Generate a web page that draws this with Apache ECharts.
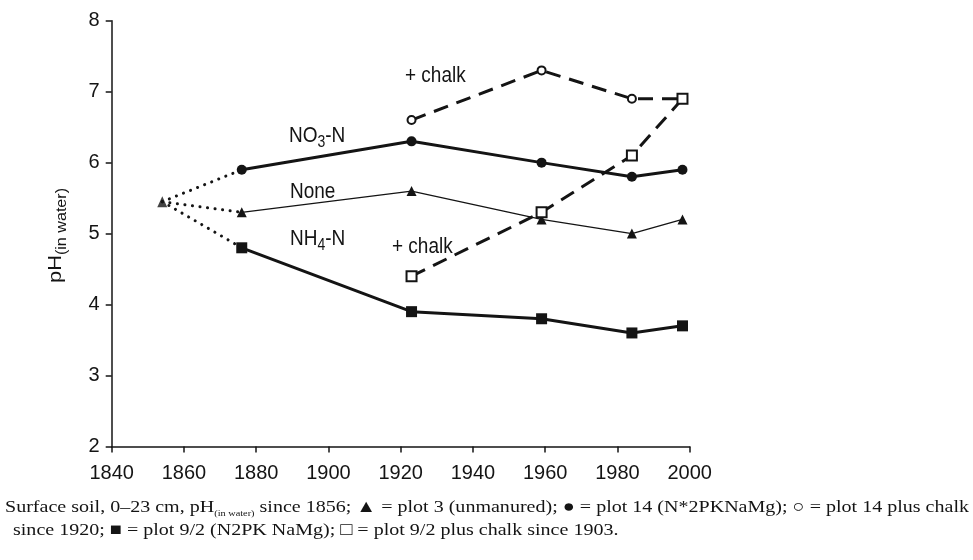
<!DOCTYPE html>
<html>
<head>
<meta charset="utf-8">
<script src="https://cdn.jsdelivr.net/npm/echarts@6/dist/echarts.min.js"></script>
<style>
  html, body { margin: 0; padding: 0; background: #fff; }
  #chart { width: 973px; height: 560px; }
</style>
</head>
<body>
<div id="chart"></div>
<script>
// Surface soil (0–23 cm) pH in water, Park Grass plots
const xTickLabels = [1840, 1860, 1880, 1900, 1920, 1940, 1960, 1980, 2000];
const yTickLabels = [2, 3, 4, 5, 6, 7, 8];

// common starting value, 1856 sampling
const startYear = 1854;
const startPH = 5.45;

const years = [1876, 1923, 1959, 1984, 1998];
const plot3 = [5.3, 5.6, 5.2, 5.0, 5.2];       // unmanured
const plot14 = [5.9, 6.3, 6.0, 5.8, 5.9];      // N*2PKNaMg
const plot92 = [4.8, 3.9, 3.8, 3.6, 3.7];      // N2PKNaMg

const chalkYears = [1923, 1959, 1984, 1998];
const plot14Chalk = [6.6, 7.3, 6.9, 6.9];      // plot 14 plus chalk
const plot92Chalk = [4.4, 5.3, 6.1, 6.9];      // plot 9/2 plus chalk

const INK = '#141414';
const SANS = '"Liberation Sans", Arial, Helvetica, sans-serif';
const SERIF = '"Liberation Serif", "Times New Roman", serif';

const chart = echarts.init(document.getElementById('chart'), null, { renderer: 'canvas' });

// text measuring for runs with sub/superscripts
const mctx = document.createElement('canvas').getContext('2d');
function textWidth(t, font) { mctx.font = font; return mctx.measureText(t).width; }

// pieces: [text, fontSize, baselineShift]; all placed on one baseline at (0,0)
function textRun(pieces, family) {
  let x = 0;
  return pieces.map(([t, size, shift]) => {
    const font = size + 'px ' + family;
    const el = {
      type: 'text', x: x, y: (shift || 0) - 0.31 * size, silent: true,
      style: { text: t, font: font, fill: INK, align: 'left', verticalAlign: 'middle' }
    };
    x += textWidth(t, font);
    return el;
  });
}
function runWidth(pieces, family) {
  return pieces.reduce((w, [t, size]) => w + textWidth(t, size + 'px ' + family), 0);
}
function label(x, y, pieces, opts) {
  opts = opts || {};
  return {
    type: 'group', x: x, y: y, silent: true,
    scaleX: opts.sx || 1, scaleY: opts.sy || 1, rotation: opts.rot || 0,
    children: textRun(pieces, opts.family || SANS)
  };
}

const pairs = (xs, ys) => xs.map((x, i) => [x, ys[i]]);

// dotted links from the 1856 value to the first sampling of each treatment
const dotted = { type: [0.1, 7.5], width: 3, cap: 'round', color: INK };
const linkSeries = [plot14, plot3, plot92].map(vals => ({
  type: 'line', data: [[startYear, startPH], [years[0], vals[0]]],
  symbol: 'none', lineStyle: dotted, silent: true, z: 1
}));

const caption1 = [
  ['Surface soil, 0–23 cm, pH', 17.5],
  ['(in water)', 9, 3.5],
  [' since 1856; ▲ = plot 3 (unmanured); ● = plot 14 (N*2PKNaMg); ○ = plot 14 plus chalk', 17.5]
];
const caption2 = [['since 1920; ■ = plot 9/2 (N2PK NaMg); □ = plot 9/2 plus chalk since 1903.', 17.5]];
const capScale = 964 / runWidth(caption1, SERIF);

// points shared with the plot 9/2 + chalk line carry no circle
const chalk14Data = pairs(chalkYears, plot14Chalk).map((p, i) =>
  (p[0] === chalkYears[chalkYears.length - 1] && p[1] === plot92Chalk[plot92Chalk.length - 1])
    ? { value: p, symbol: 'none' } : p);

const axisLineStyle = { color: INK, width: 1.5 };
const tickLabel = { color: INK, fontSize: 20, fontFamily: SANS, formatter: v => String(v) };

chart.setOption({
  animation: false,
  backgroundColor: '#fff',
  grid: { left: 111.7, right: 283.3, top: 20.7, bottom: 113.5, containLabel: false, outerBoundsMode: 'none' },
  xAxis: {
    type: 'value',
    min: xTickLabels[0], max: xTickLabels[xTickLabels.length - 1],
    interval: xTickLabels[1] - xTickLabels[0],
    axisLine: { show: true, onZero: false, lineStyle: axisLineStyle },
    axisTick: { show: true, length: 6, lineStyle: axisLineStyle },
    axisLabel: Object.assign({ margin: 17 }, tickLabel),
    splitLine: { show: false }
  },
  yAxis: {
    type: 'value',
    min: yTickLabels[0], max: yTickLabels[yTickLabels.length - 1],
    interval: yTickLabels[1] - yTickLabels[0],
    axisLine: { show: true, onZero: false, lineStyle: axisLineStyle },
    axisTick: { show: true, length: 6, lineStyle: axisLineStyle },
    axisLabel: Object.assign({ margin: 12 }, tickLabel),
    splitLine: { show: false }
  },
  series: [
    ...linkSeries,
    {
      name: 'plot 3', type: 'line', data: pairs(years, plot3),
      symbol: 'triangle', symbolSize: [10, 10], showAllSymbol: true,
      itemStyle: { color: INK }, lineStyle: { color: INK, width: 1.3 }, z: 2
    },
    {
      name: 'plot 14', type: 'line', data: pairs(years, plot14),
      symbol: 'circle', symbolSize: 10, showAllSymbol: true,
      itemStyle: { color: INK }, lineStyle: { color: INK, width: 3 }, z: 3
    },
    {
      name: 'plot 9/2', type: 'line', data: pairs(years, plot92),
      symbol: 'rect', symbolSize: 11, showAllSymbol: true,
      itemStyle: { color: INK }, lineStyle: { color: INK, width: 3 }, z: 3
    },
    {
      name: 'plot 14 + chalk', type: 'line', data: chalk14Data,
      symbol: 'emptyCircle', symbolSize: 8, showAllSymbol: true,
      itemStyle: { color: INK, borderWidth: 1.3 },
      lineStyle: { color: INK, width: 3, type: [15, 9] }, z: 4
    },
    {
      name: 'plot 9/2 + chalk', type: 'line', data: pairs(chalkYears, plot92Chalk),
      symbol: 'emptyRect', symbolSize: 10, showAllSymbol: true,
      itemStyle: { color: INK, borderWidth: 1.6 },
      lineStyle: { color: INK, width: 3, type: [15, 9] }, z: 5
    },
    {
      name: '1856', type: 'scatter', data: [[startYear, startPH]],
      symbol: 'triangle', symbolSize: [10, 11], itemStyle: { color: INK }, z: 6
    }
  ],
  graphic: [
    label(405, 83, [['+ chalk', 19]], { sy: 1.15 }),
    label(392, 254, [['+ chalk', 19]], { sy: 1.15 }),
    label(289, 143, [['NO', 19], ['3', 14, 4], ['-N', 19]], { sy: 1.15 }),
    label(290, 199, [['None', 19]], { sy: 1.15 }),
    label(290, 246, [['NH', 19], ['4', 14, 4], ['-N', 19]], { sy: 1.15 }),
    label(62, 283, [['pH', 19], ['(in water)', 14, 4]], { rot: Math.PI / 2, sx: 1.15 }),
    label(5, 513, caption1, { family: SERIF, sx: capScale }),
    label(13, 536, caption2, { family: SERIF, sx: capScale })
  ]
});
</script>
</body>
</html>
